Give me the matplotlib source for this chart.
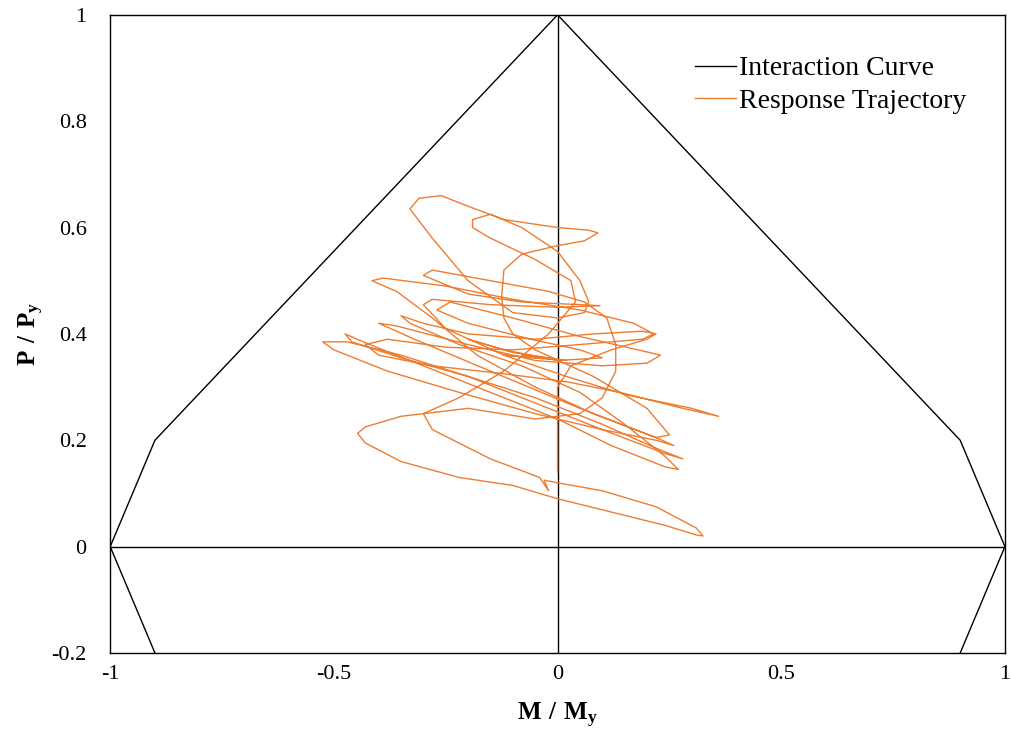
import matplotlib
matplotlib.use("Agg")
import matplotlib.pyplot as plt

plt.rcParams["font.family"] = "Liberation Serif"
plt.rcParams["mathtext.fontset"] = "custom"
plt.rcParams["mathtext.rm"] = "Liberation Serif"
plt.rcParams["mathtext.bf"] = "Liberation Serif:bold"

# interaction curve (M/My, P/Py)
curve_m = [0.9, 1.0, 0.9, 0.0, -0.9, -1.0, -0.9]
curve_p = [-0.2, 0.0, 0.2, 1.0, 0.2, 0.0, -0.2]

# response trajectory
traj_m = [
    0.00, 0.00, 0.00, 0.03, 0.12, 0.20, 0.22, 0.19, 0.08, -0.05, -0.20, -0.30, -0.35, -0.33, -0.22, -0.08,
    0.05, 0.15, 0.24, 0.27, 0.24, 0.12, 0.00, -0.15, -0.30, -0.42, -0.475, -0.46, -0.35, -0.20, -0.05,
    0.10, 0.22, 0.28, 0.24, 0.10, -0.05, -0.20, -0.35, -0.47, -0.525, -0.50, -0.38, -0.22, -0.05, 0.10,
    0.22, 0.26, 0.22, 0.08, -0.05, -0.18, -0.28, -0.36, -0.415, -0.39, -0.25, -0.10, 0.05, 0.17, 0.215,
    0.19, 0.05, -0.10, -0.25, -0.38, -0.43, -0.40, -0.28, -0.12, 0.02, 0.14, 0.28, 0.36, 0.30, 0.155,
    0.02, -0.12, -0.25, -0.30, -0.28, -0.15, 0.00, 0.095, 0.05, -0.08, -0.20, -0.30, -0.28, -0.15, -0.02,
    0.06, 0.11, 0.13, 0.13, 0.10, 0.05, -0.05, -0.20, -0.35, -0.43, -0.447, -0.43, -0.35, -0.22, -0.10,
    0.00, 0.12, 0.24, 0.31, 0.325, 0.31, 0.22, 0.10, 0.00, -0.03, -0.02, -0.04, -0.15, -0.28, -0.30,
    -0.22, -0.12, -0.02, 0.04, 0.03, -0.05, -0.15, -0.19, -0.19, -0.15, -0.08, 0.00, 0.05, 0.07, 0.06,
    0.00, -0.10, -0.20, -0.28, -0.33, -0.31, -0.26, -0.20, -0.12, 0.00, 0.07, 0.09, 0.06, 0.00, -0.08,
    -0.12, -0.125, -0.12, -0.10, -0.05, 0.08, 0.20, 0.25, 0.22, 0.05, -0.15, -0.32, -0.40, -0.36, -0.20,
    -0.05, 0.10, 0.20, 0.23, 0.18, 0.05, -0.10, -0.24, -0.27, -0.20, -0.06, 0.05, 0.10, 0.00, -0.12,
    -0.20, -0.10, 0.02, -0.06, -0.12, -0.04, -0.08, -0.05,
]
traj_p = [
    0.14, 0.22, 0.30, 0.34, 0.37, 0.39, 0.40, 0.405, 0.40, 0.39, 0.40, 0.42, 0.434, 0.42, 0.38, 0.34,
    0.29, 0.23, 0.17, 0.145, 0.15, 0.19, 0.24, 0.29, 0.34, 0.38, 0.40, 0.385, 0.355, 0.32, 0.28,
    0.23, 0.185, 0.165, 0.175, 0.22, 0.27, 0.32, 0.36, 0.385, 0.385, 0.37, 0.33, 0.29, 0.25, 0.22,
    0.20, 0.19, 0.205, 0.25, 0.30, 0.36, 0.43, 0.48, 0.50, 0.505, 0.49, 0.465, 0.445, 0.42, 0.40,
    0.39, 0.38, 0.37, 0.375, 0.39, 0.38, 0.36, 0.34, 0.325, 0.31, 0.29, 0.26, 0.245, 0.26, 0.285,
    0.32, 0.36, 0.41, 0.455, 0.465, 0.455, 0.45, 0.453, 0.455, 0.46, 0.475, 0.51, 0.52, 0.50, 0.48,
    0.46, 0.43, 0.38, 0.33, 0.28, 0.25, 0.24, 0.26, 0.245, 0.225, 0.213, 0.195, 0.16, 0.13, 0.115,
    0.09, 0.065, 0.04, 0.022, 0.02, 0.035, 0.075, 0.105, 0.12, 0.125, 0.105, 0.13, 0.165, 0.22, 0.25,
    0.28, 0.33, 0.40, 0.46, 0.50, 0.54, 0.58, 0.60, 0.615, 0.625, 0.60, 0.555, 0.50, 0.46, 0.44,
    0.43, 0.44, 0.50, 0.58, 0.635, 0.655, 0.66, 0.64, 0.615, 0.60, 0.595, 0.59, 0.575, 0.566, 0.55,
    0.52, 0.47, 0.43, 0.40, 0.37, 0.32, 0.26, 0.21, 0.205, 0.26, 0.33, 0.39, 0.42, 0.415, 0.38,
    0.35, 0.34, 0.345, 0.36, 0.37, 0.395, 0.43, 0.46, 0.445, 0.42, 0.39, 0.37, 0.355, 0.35, 0.37,
    0.39, 0.365, 0.35, 0.355, 0.36, 0.355, 0.36, 0.358,
]

fig = plt.figure(figsize=(10.11, 7.42), dpi=100)
ax = fig.add_axes([0.109, 0.12, 0.885, 0.86])

ax.axhline(0, color="black", lw=1.0)
ax.axvline(0, color="black", lw=1.0)
ax.plot(curve_m, curve_p, color="black", lw=1.0, label="Interaction Curve")
ax.plot(traj_m, traj_p, color="#ED7D31", lw=1.0, label="Response Trajectory")

ax.set_xlim(-1, 1)
ax.set_ylim(-0.2, 1)
ax.set_xticks([-1, -0.5, 0, 0.5, 1])
ax.set_xticklabels(["-1", "-0.5", "0", "0.5", "1"])
ax.set_yticks([-0.2, 0, 0.2, 0.4, 0.6, 0.8, 1])
ax.set_yticklabels(["-0.2", "0", "0.2", "0.4", "0.6", "0.8", "1"])
ax.tick_params(length=0, labelsize=16)
ax.tick_params(axis="x", pad=9)
ax.tick_params(axis="y", pad=17)
for s in ax.spines.values():
    s.set_linewidth(1.0)

ax.set_xlabel(r"$\mathbf{M\ /\ M_y}$", fontsize=18, labelpad=12)
ax.set_ylabel(r"$\mathbf{P\ /\ P_y}$", fontsize=18, labelpad=4)

ax.legend(loc="upper right", bbox_to_anchor=(0.985, 0.975), frameon=False, fontsize=20,
          handlelength=1.5, handletextpad=0.1, labelspacing=0.25)

fig.savefig("out.png", dpi=100)
